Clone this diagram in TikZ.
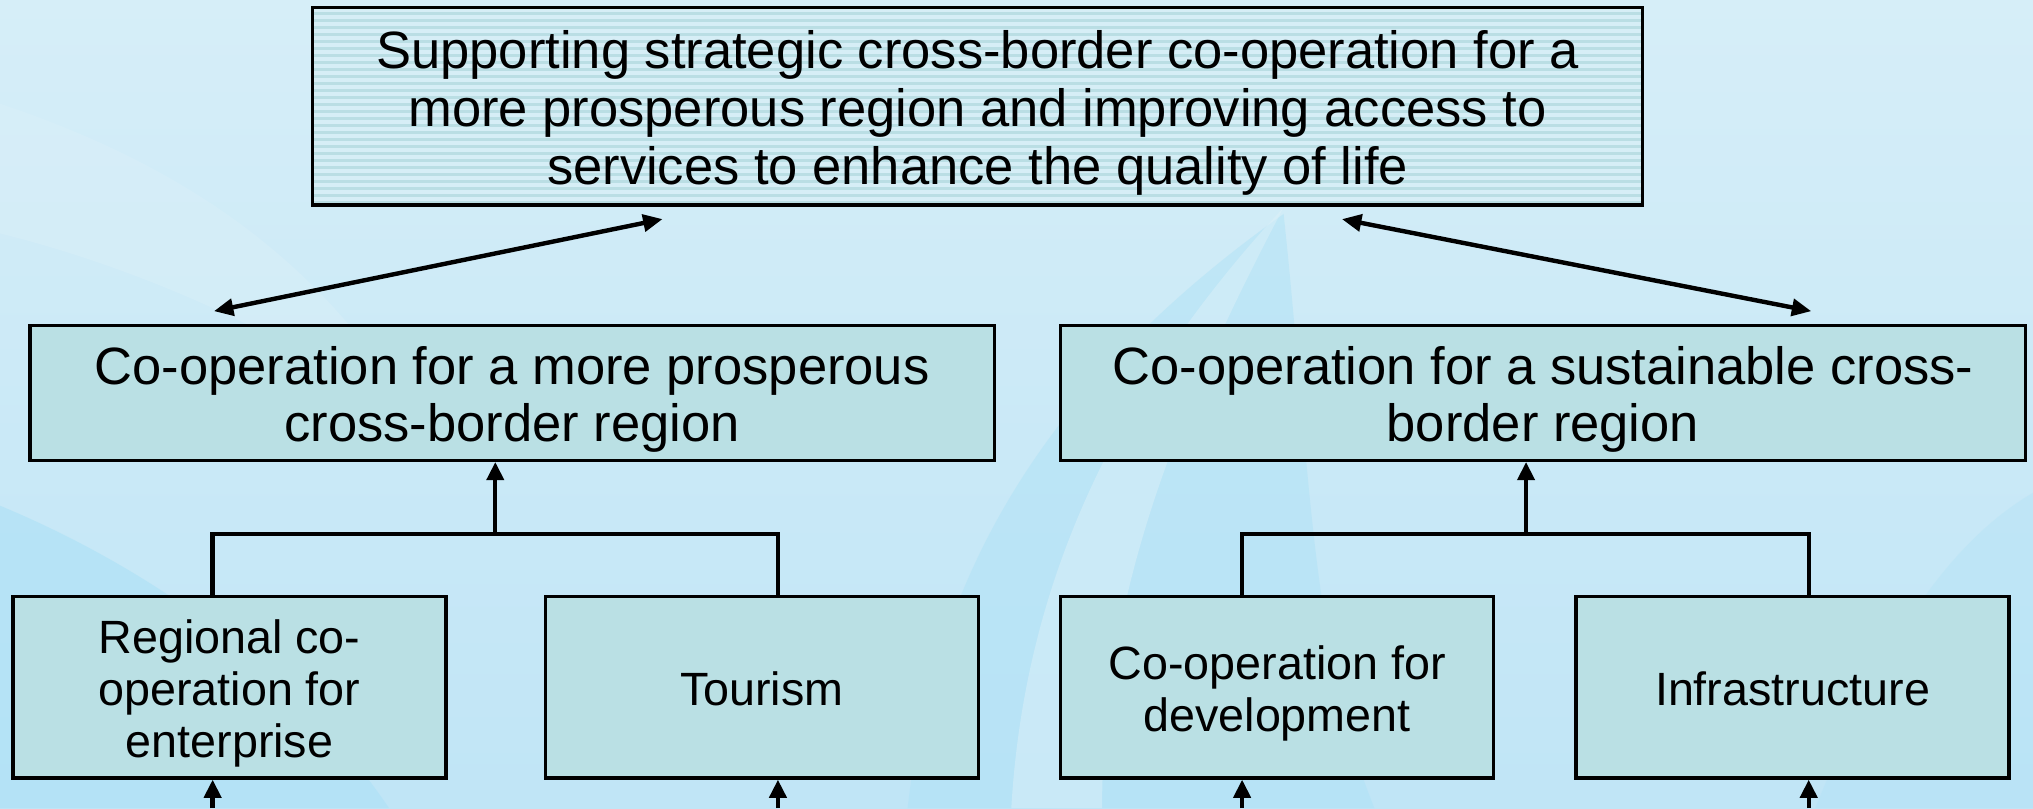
\documentclass[tikz,border=0pt]{standalone}
\usepackage{fontspec}
\setmainfont{Liberation Sans}
\usetikzlibrary{arrows.meta}
\definecolor{bgtop}{RGB}{214,238,248}
\definecolor{bgbottom}{RGB}{192,229,246}
\definecolor{bgbright}{RGB}{172,225,246}
\definecolor{bglight}{RGB}{220,240,248}
\definecolor{boxfill}{RGB}{186,224,228}
\definecolor{topfill}{RGB}{214,238,246}
\definecolor{stripe}{RGB}{186,222,228}
\tikzset{
  box/.style={draw=black, line width=2.6pt, fill=boxfill, inner sep=0pt},
  midbox/.style={box, minimum width=744pt, minimum height=104pt},
  lowbox/.style={box, minimum width=334pt, minimum height=140pt},
  midtxt/.style={align=center, inner sep=0pt, yshift=-5pt, font=\fontsize{40.5}{44}\selectfont},
  lowtxt/.style={align=center, inner sep=0pt, yshift=-5pt, font=\fontsize{36}{40}\selectfont},
  lowtxtone/.style={lowtxt, yshift=4pt},
  toptxt/.style={align=center, inner sep=0pt, yshift=-5pt, font=\fontsize{40.5}{44.5}\selectfont},
  topbox/.style={draw=black, line width=2.6pt, fill=topfill, inner sep=0pt,
    minimum width=1026pt, minimum height=152pt,
    path picture={\foreach \k in {1,...,28}{\draw[stripe, line width=2pt]
      ([yshift=-\k*5.4pt+1pt]path picture bounding box.north west) --
      ([yshift=-\k*5.4pt+1pt]path picture bounding box.north east);}}},
  link/.style={draw=black, line width=3.4pt},
  uparrow/.style={link, -{Triangle[length=14pt,width=13pt]}},
  twoway/.style={link, {Triangle[length=15pt,width=13pt]}-{Triangle[length=15pt,width=13pt]}}
}
\begin{document}
\begin{tikzpicture}[x=1pt,y=-1pt]
\useasboundingbox (0,0) rectangle (1568,623.2);
% background
\shade[top color=bgtop, bottom color=bgbottom] (0,0) rectangle (1568,623.2);
\fill[bglight, opacity=0.4] (0,80) .. controls (150,130) and (260,210) .. (330,340) .. controls (250,270) and (120,210) .. (0,180) -- cycle;
\fill[bgbright, opacity=0.6] (0,390) .. controls (120,440) and (230,520) .. (300,623.2) -- (0,623.2) -- cycle;
\fill[bgbright, opacity=0.45] (700,623.2) .. controls (720,450) and (800,300) .. (990,165) .. controls (1010,350) and (1010,500) .. (1060,623.2) -- cycle;
\fill[bglight, opacity=0.5] (780,623.2) .. controls (790,450) and (860,300) .. (990,160) .. controls (900,330) and (850,470) .. (850,623.2) -- cycle;
\fill[bgbright, opacity=0.3] (1400,623.2) .. controls (1450,500) and (1500,420) .. (1568,380) -- (1568,623.2) -- cycle;

% nodes
\node[topbox, label={[toptxt]center:{Supporting strategic cross-border co-operation for a\\more prosperous region and improving access to\\services to enhance the quality of life}}] (top) at (754,82) {};
\node[midbox, label={[midtxt]center:{Co-operation for a more prosperous\\cross-border region}}] (ml) at (395,303) {};
\node[midbox, label={[midtxt]center:{Co-operation for a sustainable cross-\\border region}}] (mr) at (1190,303) {};
\node[lowbox, label={[lowtxt]center:{Regional co-\\operation for\\enterprise}}] (b1) at (177,530) {};
\node[lowbox, label={[lowtxtone]center:{Tourism}}] (b2) at (587.5,530) {};
\node[lowbox, label={[lowtxt]center:{Co-operation for\\development}}] (b3) at (985,530) {};
\node[lowbox, label={[lowtxtone]center:{Infrastructure}}] (b4) at (1382.5,530) {};

% connector coordinates
\coordinate (t1) at (164,412);
\coordinate (t2) at (600,412);
\coordinate (m1) at (382,412);
\coordinate (t3) at (958,412);
\coordinate (t4) at (1395,412);
\coordinate (m2) at (1177,412);
\coordinate (e1) at (164,623.2);
\coordinate (e2) at (600,623.2);
\coordinate (e3) at (958,623.2);
\coordinate (e4) at (1395,623.2);
\coordinate (dl1) at (165,240);
\coordinate (dl2) at (511,169);
\coordinate (dr1) at (1035,169);
\coordinate (dr2) at (1397,240);

% trees
\draw[link] (t1 |- b1.north) -- (t1) -- (t2) -- (t2 |- b2.north);
\draw[uparrow] (m1) -- (m1 |- ml.south);
\draw[link] (t3 |- b3.north) -- (t3) -- (t4) -- (t4 |- b4.north);
\draw[uparrow] (m2) -- (m2 |- mr.south);
% bottom arrows
\draw[uparrow] (e1) -- (e1 |- b1.south);
\draw[uparrow] (e2) -- (e2 |- b2.south);
\draw[uparrow] (e3) -- (e3 |- b3.south);
\draw[uparrow] (e4) -- (e4 |- b4.south);
% two-way arrows
\draw[twoway] (dl1) -- (dl2);
\draw[twoway] (dr1) -- (dr2);
\end{tikzpicture}
\end{document}
